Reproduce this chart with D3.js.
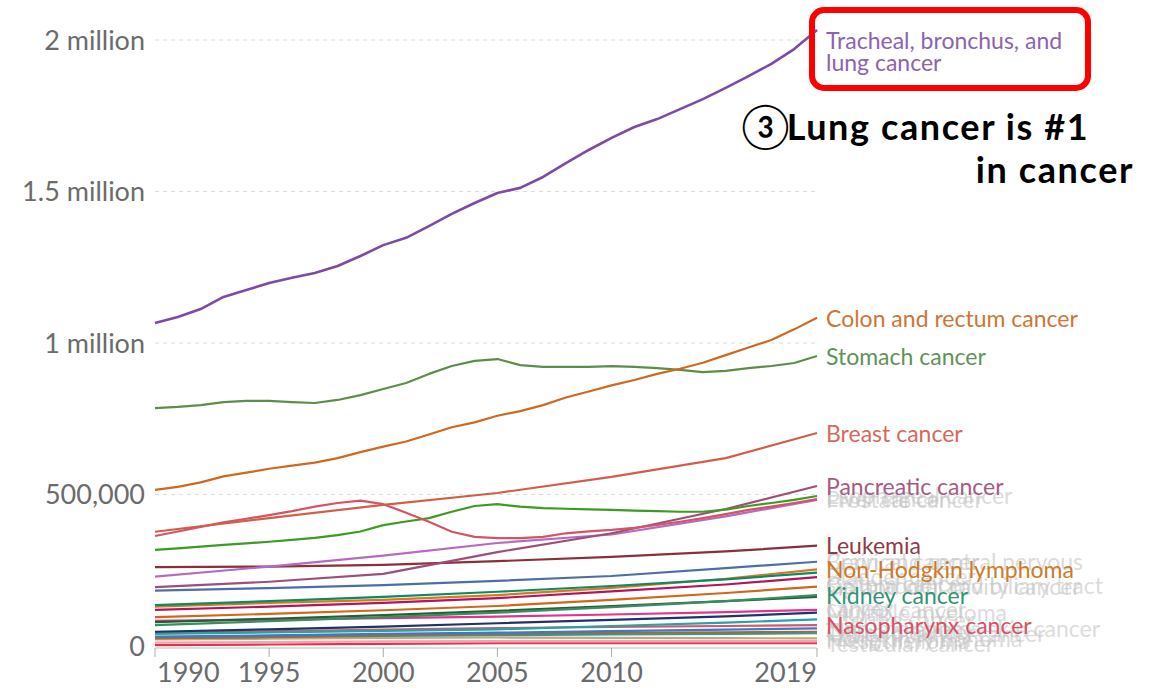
<!DOCTYPE html>
<html lang="en">
<head>
<meta charset="UTF-8">
<title>Cancer deaths by type, World</title>
<script src="https://cdn.jsdelivr.net/npm/d3@7"></script>
<style>
  body { margin: 0; background: #fff; }
  text { font-family: Lato, "Open Sans", sans-serif; }
</style>
</head>
<body>
<svg width="1173" height="688"></svg>
<script>
// deaths in thousands
const years = [1990,1991,1992,1993,1994,1995,1996,1997,1998,1999,2000,2001,2002,2003,2004,
               2005,2006,2007,2008,2009,2010,2011,2012,2013,2014,2015,2016,2017,2018,2019];
const fiveYears = [1990,1995,2000,2005,2010,2015,2019];

const lung = [1066,1086,1112,1152,1175,1198,1215,1231,1254,1287,1323,1347,1386,1426,1462,
              1495,1512,1548,1594,1637,1677,1713,1739,1772,1805,1842,1881,1921,1970,2033];
const colon = [515,525,540,560,572,585,595,605,620,640,658,675,698,722,738,
               760,775,795,820,840,860,878,898,915,935,960,985,1010,1045,1083];
const stomach = [785,789,795,805,809,809,805,802,812,828,848,868,898,924,941,
                 947,927,921,921,921,924,921,917,911,904,908,917,924,934,957];
const liver = [363,378,393,408,420,432,445,460,472,480,468,440,410,377,360,
               356,356,360,372,378,383,390,400,410,422,435,449,460,472,485];
const esophageal = [317,322,328,334,339,344,350,357,366,378,399,411,422,443,462,
                    468,460,455,453,451,449,447,445,443,443,450,462,472,482,495];
const breast = [377,422,466,505,558,620,703];
const pancreatic = [194,212,238,310,372,452,528];
const prostate = [229,262,298,340,368,428,482];
const leukemia = [260,262,268,280,294,312,331];
const cervical = [183,191,201,215,231,257,278];
const brain = [135,148,162,179,198,220,242];
const lymphoma = [130,142,152,168,192,222,253];
const bladder = [119,130,142,158,180,203,227];
const lipOral = [95,106,118,132,152,175,196];
const gallbladder = [79,90,102,116,132,148,162];
const larynx = [83,87,92,97,104,112,119];
const kidney = [69,82,95,110,128,148,168];
const myeloma = [47,55,64,75,86,98,110];
const uterine = [40,45,50,55,66,77,88];
const nasopharynx = [43,48,54,59,63,66,69];
const skin = [31,35,40,44,49,54,58];
const thyroid = [26,30,35,40,43,45,47];
const pharynx = [26,29,33,36,38,40,42];
const hodgkin = [22,24,27,28,27,26,25];
const mesothelioma = [11,13,15,16,16,16,16];
const testicular = [3,5,7,9,9,9,9];

const yTicks = [0, 500000, 1000000, 1500000, 2000000];
const yTickLabels = ["0", "500,000", "1 million", "1.5 million", "2 million"];
const xTicks = [1990, 1995, 2000, 2005, 2010, 2019];

// name, years, values, line colour, label (null = label hidden behind others)
const series = [
  ["Testicular cancer", fiveYears, testicular, "#e3314d", null],
  ["Mesothelioma", fiveYears, mesothelioma, "#f2a3b3", null],
  ["Hodgkin lymphoma", fiveYears, hodgkin, "#c8a577", null],
  ["Other pharynx cancer", fiveYears, pharynx, "#1aa0b0", null],
  ["Thyroid cancer", fiveYears, thyroid, "#a8692a", null],
  ["Non-melanoma skin cancer", fiveYears, skin, "#3b7acb", null],
  ["Nasopharynx cancer", fiveYears, nasopharynx, "#d5566d", "#d35468"],
  ["Uterine cancer", fiveYears, uterine, "#27a3a3", null],
  ["Multiple myeloma", fiveYears, myeloma, "#1c3565", null],
  ["Larynx cancer", fiveYears, larynx, "#e2358a", null],
  ["Gallbladder and biliary tract cancer", fiveYears, gallbladder, "#245f36", null],
  ["Kidney cancer", fiveYears, kidney, "#3a8c62", "#2f9573"],
  ["Lip and oral cavity cancer", fiveYears, lipOral, "#d4661a", null],
  ["Bladder cancer", fiveYears, bladder, "#b3145c", null],
  ["Non-Hodgkin lymphoma", fiveYears, lymphoma, "#d27a1f", "#cd7a2a"],
  ["Brain and central nervous system cancer", fiveYears, brain, "#0c8a62", null],
  ["Cervical cancer", fiveYears, cervical, "#4d6fa5", null],
  ["Leukemia", fiveYears, leukemia, "#8b2f3c", "#8e3b48"],
  ["Prostate cancer", fiveYears, prostate, "#b56bc0", null],
  ["Pancreatic cancer", fiveYears, pancreatic, "#9e4f78", "#a65b84"],
  ["Esophageal cancer", years, esophageal, "#3f9a25", null],
  ["Liver cancer", years, liver, "#d45467", null],
  ["Breast cancer", fiveYears, breast, "#d25e4a", "#d36a5c"],
  ["Stomach cancer", years, stomach, "#5b8f48", "#5f9357"],
  ["Colon and rectum cancer", years, colon, "#d0681f", "#d07536"],
  ["Tracheal, bronchus, and lung cancer", years, lung, "#7b4ba5", "#8b64ae"]
];

const svg = d3.select("svg");
const plotLeft = 155, plotRight = 817, plotTop = 40, plotBottom = 646;
const labelX = 826, labelSize = 23;

const x = d3.scaleLinear().domain([1990, 2019]).range([plotLeft, plotRight]);
const y = d3.scaleLinear().domain([0, 2000000]).range([plotBottom, plotTop]);

// grid + y labels
const grid = svg.append("g");
grid.selectAll("line").data(yTicks.slice(1)).join("line")
  .attr("x1", plotLeft).attr("x2", plotRight)
  .attr("y1", d => y(d)).attr("y2", d => y(d))
  .attr("stroke", "#dcdcdc").attr("stroke-dasharray", "4,4");
grid.selectAll("text").data(yTicks).join("text")
  .attr("x", 145).attr("y", d => y(d)).attr("dy", "0.36em")
  .attr("text-anchor", "end").attr("fill", "#6b6b6b").attr("font-size", 27)
  .text((d, i) => yTickLabels[i]);

// x axis
const xAxis = svg.append("g").attr("transform", `translate(0,${plotBottom + 2})`);
xAxis.append("line").attr("x1", plotLeft).attr("x2", plotRight).attr("stroke", "#bbb");
xAxis.selectAll(".tick").data(xTicks).join("line")
  .attr("class", "tick")
  .attr("x1", d => x(d)).attr("x2", d => x(d)).attr("y1", 0).attr("y2", 9)
  .attr("stroke", "#aaa");
xAxis.selectAll("text").data(xTicks).join("text")
  .attr("x", (d, i) => x(d) + (i === 0 ? 2 : 0)).attr("y", 34)
  .attr("text-anchor", (d, i) => i === 0 ? "start" : i === xTicks.length - 1 ? "end" : "middle")
  .attr("fill", "#6b6b6b").attr("font-size", 27)
  .text(d => d);

// lines
const line = d3.line().x(d => x(d[0])).y(d => y(d[1] * 1000));
svg.append("g").selectAll("path").data(series).join("path")
  .attr("d", s => line(s[1].map((yr, i) => [yr, s[2][i]])))
  .attr("fill", "none")
  .attr("stroke", s => s[3])
  .attr("stroke-width", s => s[0].startsWith("Tracheal") ? 2.6 : 2.2)
  .attr("stroke-linejoin", "round");

// labels
const wrap = {
  "Brain and central nervous system cancer": ["Brain and central nervous", "system cancer"],
  "Gallbladder and biliary tract cancer": ["Gallbladder and biliary tract", "cancer"]
};
const labels = svg.append("g");
series.filter(s => !s[4]).forEach(s => {
  const lines = wrap[s[0]] || [s[0]];
  const yy = y(s[2][s[2].length - 1] * 1000) - (lines.length - 1) * 11;
  const t = labels.append("text").attr("x", labelX).attr("y", yy)
    .attr("font-size", labelSize).attr("fill", "#c4c4c4").attr("fill-opacity", 0.6);
  lines.forEach((l, i) => t.append("tspan").attr("x", labelX).attr("dy", i ? 22 : "0.36em").text(l));
});
series.filter(s => s[4] && !s[0].startsWith("Tracheal")).forEach(s => {
  labels.append("text").attr("x", labelX)
    .attr("y", y(s[2][s[2].length - 1] * 1000)).attr("dy", "0.38em")
    .attr("font-size", labelSize).attr("fill", s[4]).text(s[0]);
});

// lung label, boxed
const lungS = series[series.length - 1];
const lungEnd = y(lungS[2][lungS[2].length - 1] * 1000);
const lungLabel = labels.append("text").attr("x", labelX).attr("y", lungEnd + 11)
  .attr("font-size", labelSize).attr("fill", lungS[4]);
lungLabel.append("tspan").attr("x", labelX).attr("dy", "0.36em").text("Tracheal, bronchus, and");
lungLabel.append("tspan").attr("x", labelX).attr("dy", 22).text("lung cancer");
svg.append("rect")
  .attr("x", labelX - 14).attr("y", lungEnd - 20).attr("width", 276).attr("height", 78)
  .attr("rx", 12).attr("fill", "none").attr("stroke", "#ff0000").attr("stroke-width", 6);

// annotation
const note = svg.append("g")
  .style("font-family", "'Noto Sans CJK JP', 'Noto Sans', sans-serif")
  .attr("font-weight", 700).attr("font-size", 36).attr("letter-spacing", 1.6).attr("fill", "#000");
const note1 = note.append("text").attr("x", 741).attr("y", 140);
note1.append("tspan").attr("font-size", 44).attr("font-weight", 400)
  .attr("letter-spacing", -3).attr("dy", 2).text("③");
note1.append("tspan").attr("dy", -2).text("Lung cancer is #1");
note.append("text").attr("x", 1134).attr("y", 183).attr("text-anchor", "end").text("in cancer");
</script>
</body>
</html>
